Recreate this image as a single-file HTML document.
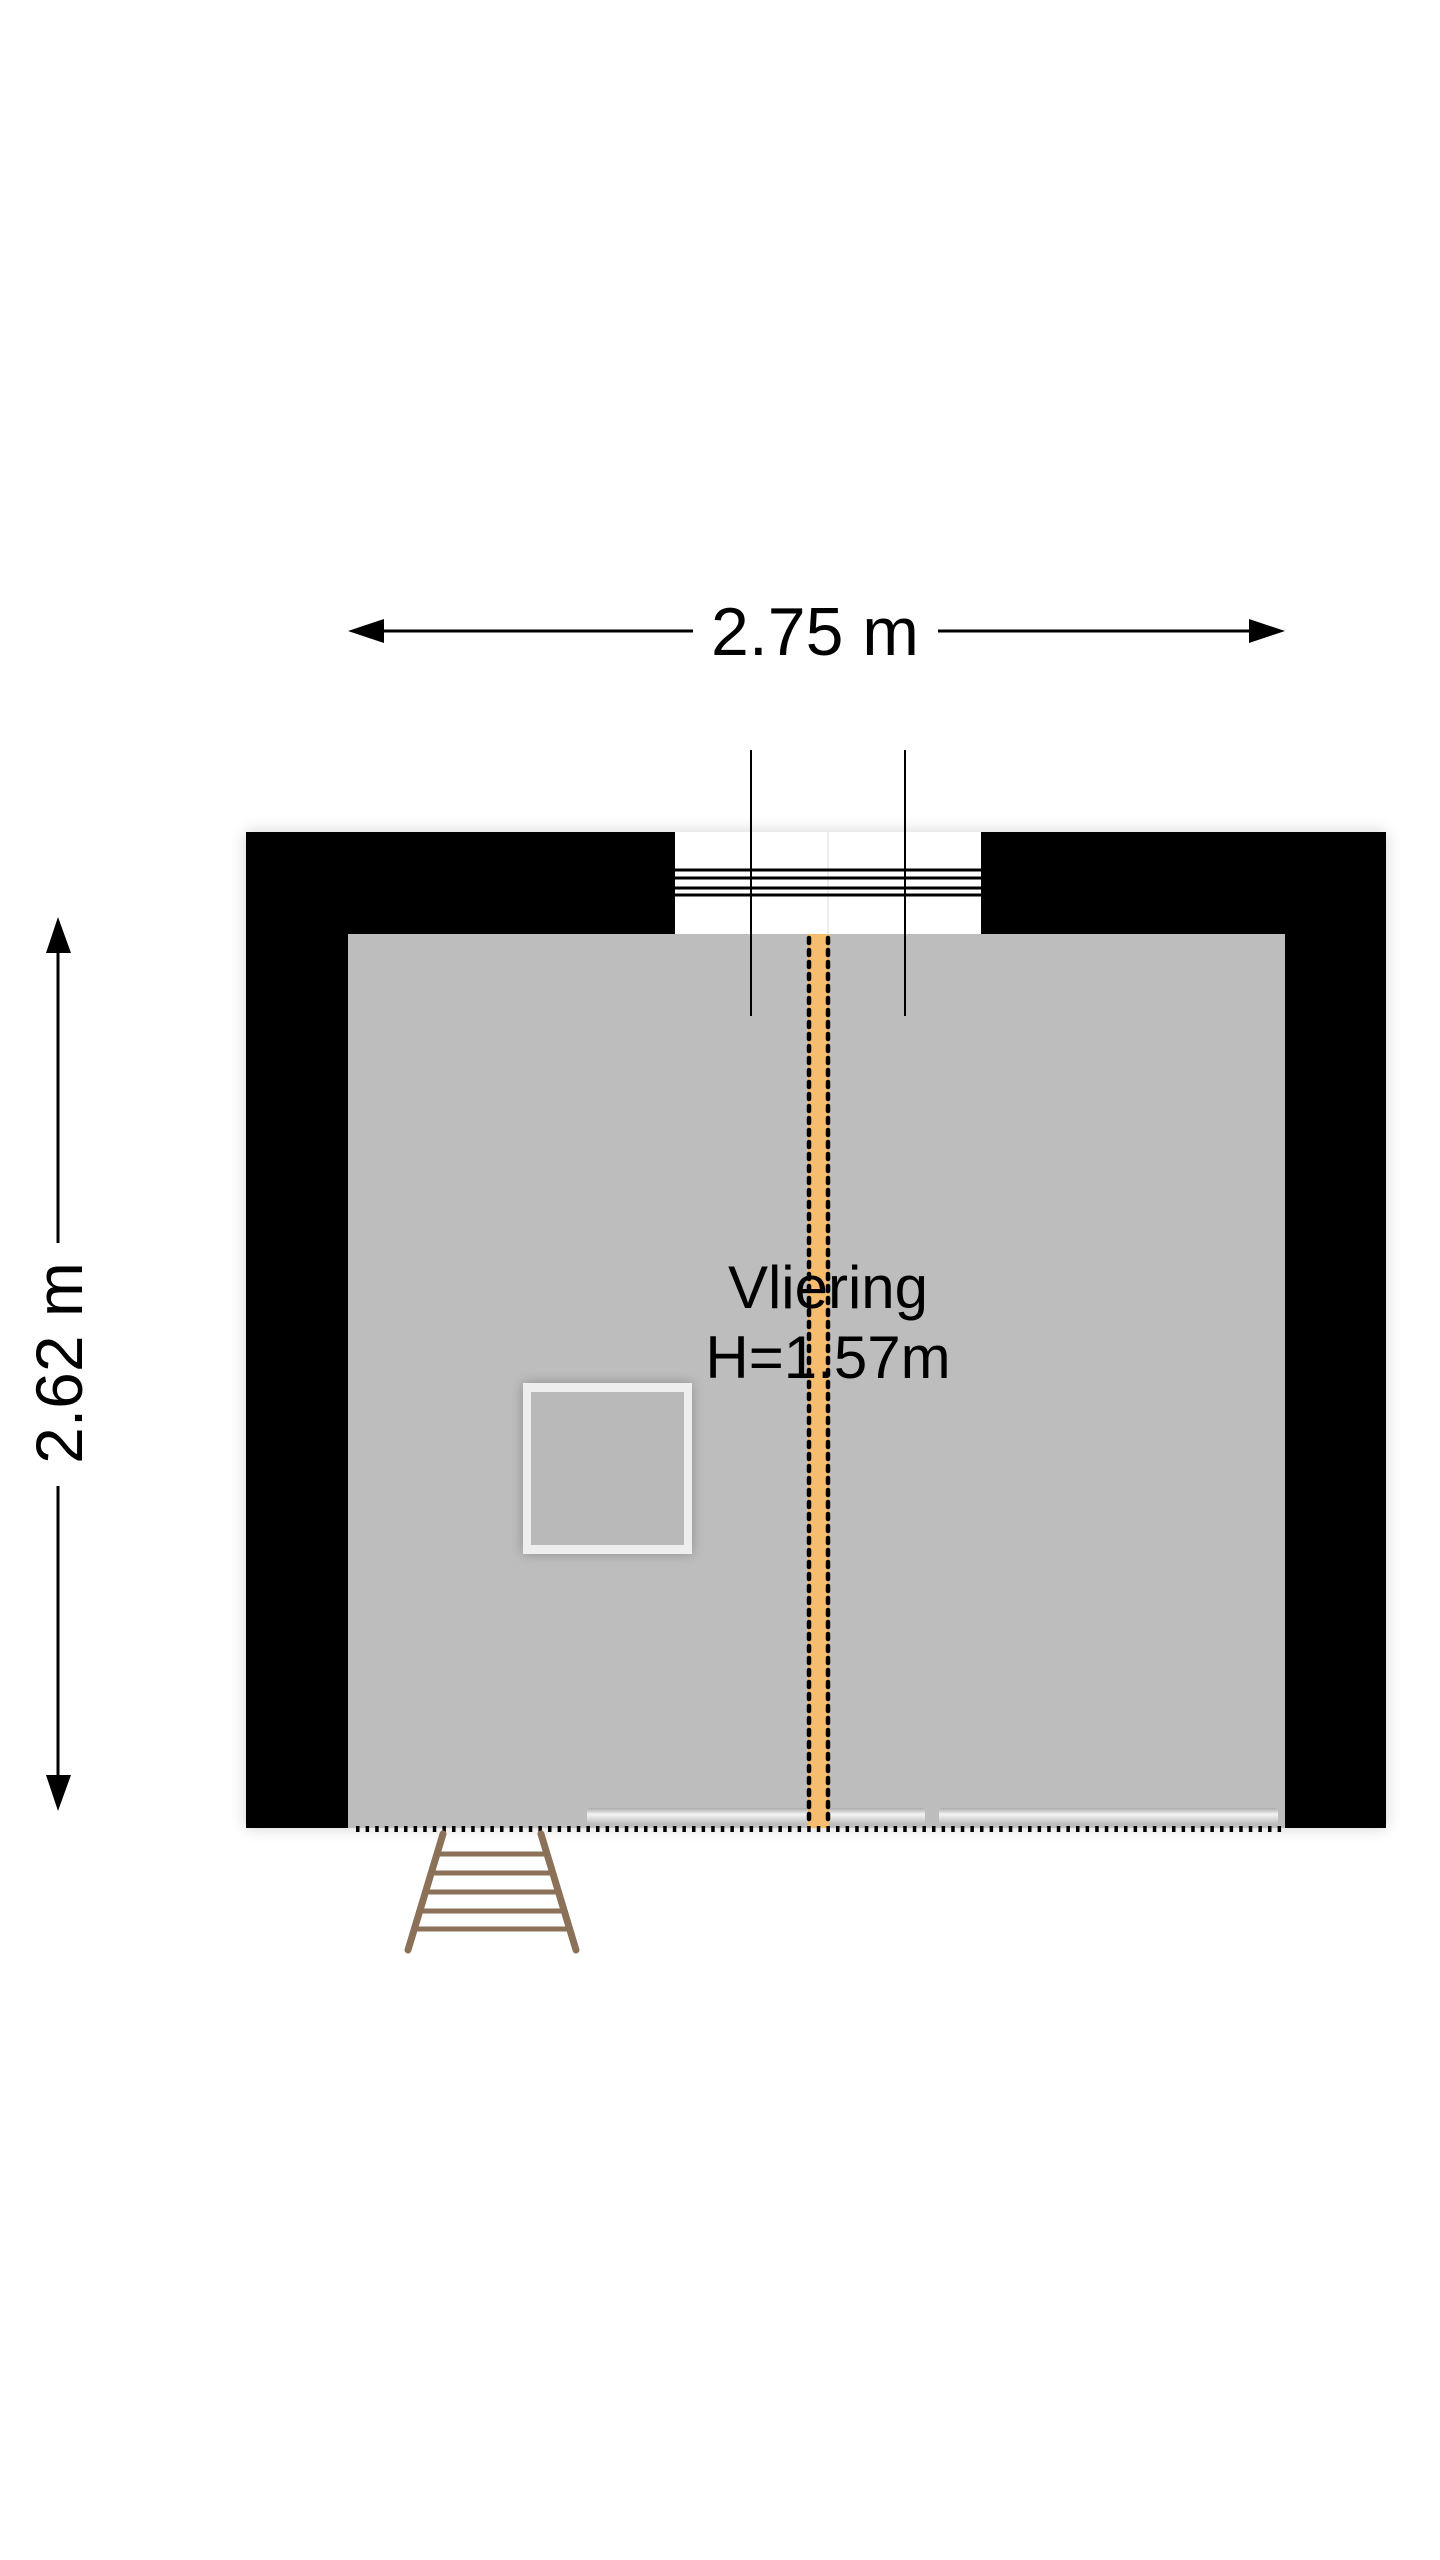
<!DOCTYPE html>
<html><head><meta charset="utf-8"><style>
html,body{margin:0;padding:0;background:#fff;}
svg{display:block;}
text{font-family:"Liberation Sans",Arial,sans-serif;fill:#000;}
</style></head><body>
<svg width="1440" height="2560" viewBox="0 0 1440 2560" xmlns="http://www.w3.org/2000/svg">
<defs>
<filter id="sh" x="-10%" y="-10%" width="120%" height="120%"><feGaussianBlur stdDeviation="8"/></filter>
<filter id="sh2" x="-20%" y="-20%" width="140%" height="140%"><feGaussianBlur stdDeviation="6"/></filter>
<linearGradient id="rad" x1="0" y1="0" x2="0" y2="1"><stop offset="0" stop-color="#aaa"/><stop offset="0.4" stop-color="#f4f4f4"/><stop offset="1" stop-color="#bdbdbd"/></linearGradient>
</defs>
<line x1="370" y1="631" x2="693" y2="631" stroke="#000" stroke-width="3"/>
<line x1="938" y1="631" x2="1265" y2="631" stroke="#000" stroke-width="3"/>
<polygon points="348,631 384,619 384,643" fill="#000"/>
<polygon points="1285,631 1249,619 1249,643" fill="#000"/>
<text x="815" y="655" font-size="68" text-anchor="middle">2.75 m</text>
<line x1="58" y1="940" x2="58" y2="1243" stroke="#000" stroke-width="3"/>
<line x1="58" y1="1486" x2="58" y2="1790" stroke="#000" stroke-width="3"/>
<polygon points="58,917 46,953 71,953" fill="#000"/>
<polygon points="58,1811 46,1775 71,1775" fill="#000"/>
<text transform="translate(82,1363) rotate(-90)" font-size="66" text-anchor="middle">2.62 m</text>
<rect x="246" y="832" width="1140" height="996" fill="#000" opacity="0.18" filter="url(#sh)"/>
<rect x="246" y="832" width="1140" height="996" fill="#000"/>
<rect x="348" y="934" width="937" height="894" fill="#bdbdbd"/>
<rect x="675" y="832" width="306" height="102" fill="#fff"/>
<line x1="828" y1="832" x2="828" y2="934" stroke="#ddd" stroke-width="1"/>
<g stroke="#000" stroke-width="3">
<line x1="675" y1="870" x2="981" y2="870"/>
<line x1="675" y1="878" x2="981" y2="878"/>
<line x1="675" y1="888" x2="981" y2="888"/>
<line x1="675" y1="895" x2="981" y2="895"/>
</g>
<line x1="751" y1="750" x2="751" y2="1016" stroke="#000" stroke-width="2"/>
<line x1="905" y1="750" x2="905" y2="1016" stroke="#000" stroke-width="2"/>
<rect x="523" y="1383" width="169" height="171" fill="#000" opacity="0.25" filter="url(#sh2)"/>
<rect x="523" y="1383" width="169" height="171" fill="#eeeeee"/>
<rect x="531" y="1392" width="153" height="153" fill="#b9b9b9"/>
<rect x="587" y="1808" width="338" height="16" rx="3" fill="url(#rad)"/>
<rect x="939" y="1808" width="339" height="16" rx="3" fill="url(#rad)"/>
<rect x="808" y="934" width="21" height="894" fill="#f6bd6e"/>
<line x1="809" y1="938" x2="809" y2="1826" stroke="#000" stroke-width="4.5" stroke-dasharray="5,7" stroke-linecap="round"/>
<line x1="828" y1="938" x2="828" y2="1826" stroke="#000" stroke-width="4.5" stroke-dasharray="5,7" stroke-linecap="round"/>
<line x1="356" y1="1829" x2="1285" y2="1829" stroke="#000" stroke-width="6" stroke-dasharray="3.5,6.1"/>
<text x="828" y="1308" font-size="60" text-anchor="middle">Vliering</text>
<text x="828" y="1378" font-size="60" text-anchor="middle">H=1.57m</text>
<g stroke="#8a7157" stroke-linecap="round">
<line x1="443" y1="1834" x2="408" y2="1950" stroke-width="7"/>
<line x1="541" y1="1834" x2="576" y2="1950" stroke-width="7"/>
<g stroke-width="5">
<line x1="440" y1="1854" x2="544" y2="1854"/>
<line x1="435" y1="1873" x2="550" y2="1873"/>
<line x1="429" y1="1892" x2="556" y2="1892"/>
<line x1="423" y1="1911" x2="562" y2="1911"/>
<line x1="418" y1="1929" x2="567" y2="1929"/>
</g>
</g>
</svg>
</body></html>
